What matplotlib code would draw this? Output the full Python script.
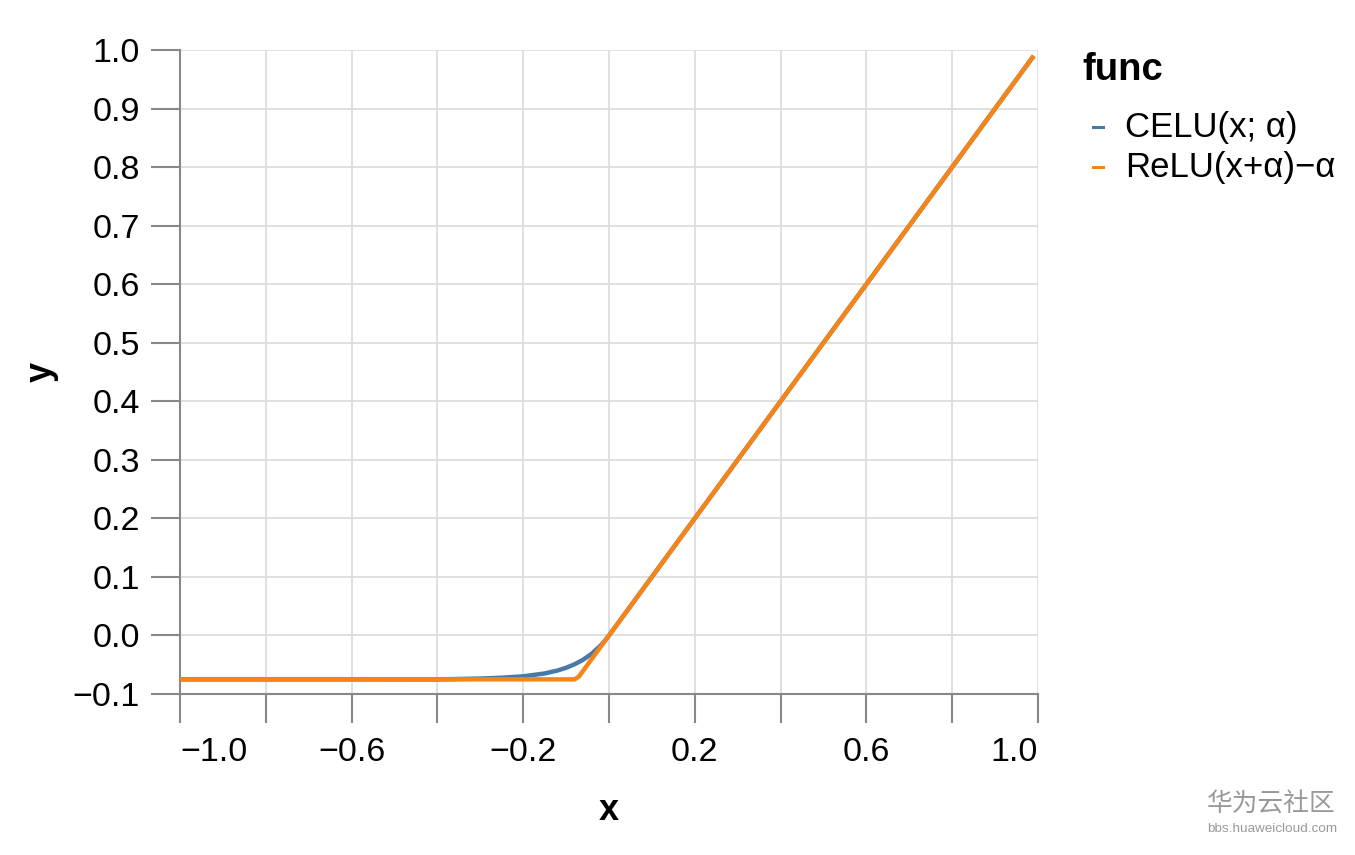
import matplotlib
matplotlib.use("Agg")
import matplotlib.pyplot as plt
from matplotlib.lines import Line2D

# ---- data ----
series_names = ["CELU(x; α)", "ReLU(x+α)−α"]
series_colors = ["#4c78a8", "#f58518"]

celu_x = [-1.0, -0.6, -0.4, -0.3, -0.25, -0.2, -0.15, -0.12, -0.1, -0.08, -0.06,
          -0.04, -0.02, -0.01, 0.0, 0.99]
celu_y = [-0.075, -0.075, -0.0751, -0.0736, -0.0722, -0.0698, -0.0649, -0.0599,
          -0.0552, -0.0492, -0.0413, -0.0310, -0.0176, -0.0094, 0.0, 0.99]

relu_x = [-1.0, -0.08, -0.07, 0.99]
relu_y = [-0.075, -0.075, -0.07, 0.99]

x_ticks = [-1.0, -0.8, -0.6, -0.4, -0.2, 0.0, 0.2, 0.4, 0.6, 0.8, 1.0]
x_tick_labels = ["−1.0", "", "−0.6", "", "−0.2", "", "0.2", "", "0.6", "", "1.0"]
y_ticks = [-0.1, 0.0, 0.1, 0.2, 0.3, 0.4, 0.5, 0.6, 0.7, 0.8, 0.9, 1.0]
y_tick_labels = ["−0.1", "0.0", "0.1", "0.2", "0.3", "0.4", "0.5", "0.6", "0.7",
                 "0.8", "0.9", "1.0"]

plt.rcParams["font.family"] = ["Liberation Sans", "DejaVu Sans"]

fig = plt.figure(figsize=(13.55, 8.55), dpi=100)
ax = fig.add_axes([180 / 1355, 1 - 694 / 855, (1038 - 180) / 1355, (694 - 50) / 855])

ax.plot(celu_x, celu_y, color=series_colors[0], lw=3.2, solid_capstyle="butt", zorder=3)
ax.plot(relu_x, relu_y, color=series_colors[1], lw=3.2, solid_capstyle="butt", zorder=4)

ax.set_xlim(-1.0, 1.0)
ax.set_ylim(-0.1, 1.0)
ax.set_xticks(x_ticks)
ax.set_xticklabels(x_tick_labels)
ax.set_yticks(y_ticks)
ax.set_yticklabels(y_tick_labels)

grid_c = "#dddddd"
axis_c = "#888888"
ax.grid(True, color=grid_c, lw=1.3, zorder=0)
ax.set_axisbelow(True)
for s in ["top", "right"]:
    ax.spines[s].set_visible(False)
for s in ["left", "bottom"]:
    ax.spines[s].set_color(axis_c)
    ax.spines[s].set_linewidth(1.5)
ax.tick_params(axis="both", length=21, width=1.5, color=axis_c, labelsize=24.5,
               labelcolor="#000000")
ax.tick_params(axis="x", pad=10)
ax.tick_params(axis="y", pad=8)

labels = ax.get_xticklabels()
labels[0].set_horizontalalignment("left")
labels[-1].set_horizontalalignment("right")

ax.set_xlabel("x", fontsize=26, fontweight="bold", labelpad=18)
ax.set_ylabel("y", fontsize=26, fontweight="bold", labelpad=10)

# legend
fig.text(1082 / 1355, 1 - 70 / 855, "func", fontsize=27.5, fontweight="bold",
         va="center", ha="left")
for i, (name, col) in enumerate(zip(series_names, series_colors)):
    yy = 1 - (127 + 40 * i) / 855
    fig.add_artist(Line2D([1093 / 1355, 1103 / 1355], [yy, yy], color=col, lw=2.2,
                          transform=fig.transFigure))
    fig.text(1125 / 1355, yy, name, fontsize=25, va="center", ha="left")

# watermark
fig.text(1271 / 1355, 1 - 805 / 855, "华为云社区", fontsize=18.5, color="#999999",
         ha="center", va="center", family=["Noto Sans CJK SC", "DejaVu Sans"])
fig.text(1272 / 1355, 1 - 829 / 855, "bbs.huaweicloud.com", fontsize=9.7,
         color="#999999", ha="center", va="center")

fig.savefig("out.png", dpi=100)
